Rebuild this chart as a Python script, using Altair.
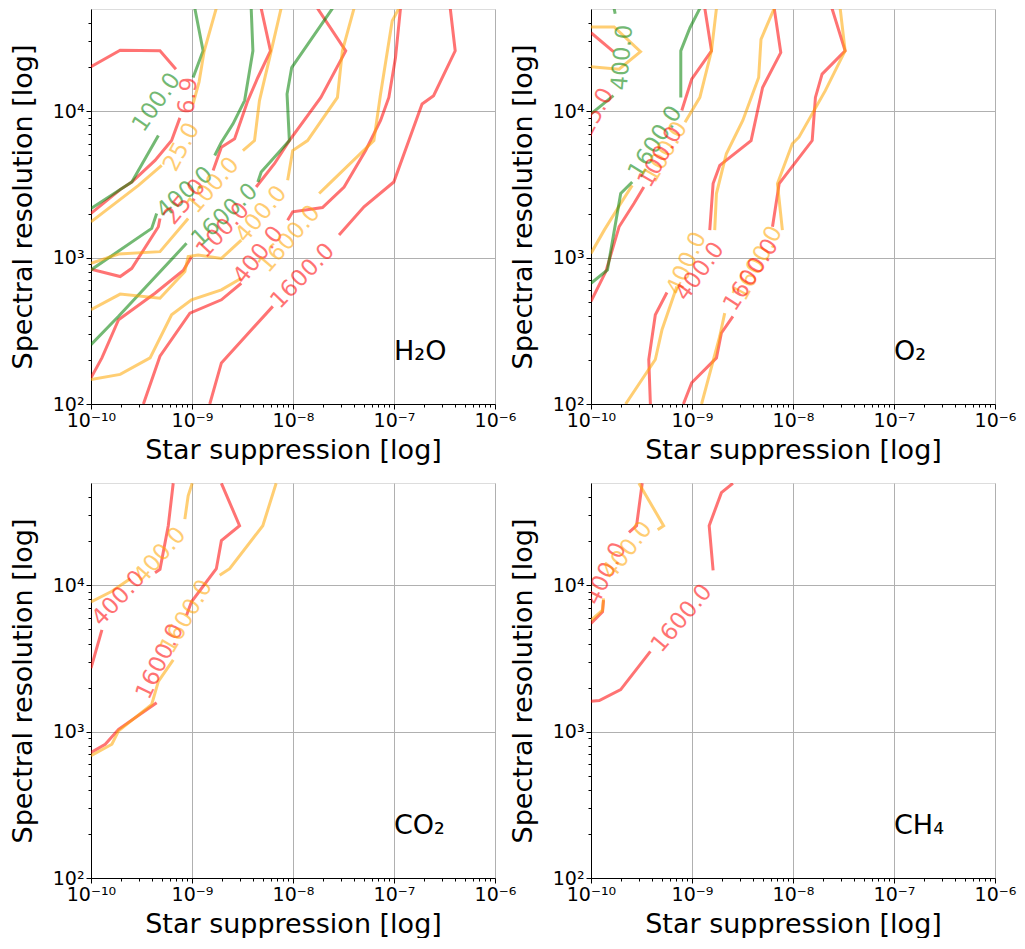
import altair as alt
import pandas as pd

# ---------------- axes ----------------
X_DOMAIN = [1e-10, 1e-6]
Y_DOMAIN = [1e2, 5e4]
X_TICKS = [1e-10, 1e-9, 1e-8, 1e-7, 1e-6]
X_TICK_LABELS = ["10⁻¹⁰", "10⁻⁹", "10⁻⁸", "10⁻⁷", "10⁻⁶"]
Y_TICKS = [1e2, 1e3, 1e4]
Y_TICK_LABELS = ["10²", "10³", "10⁴"]
X_TITLE = "Star suppression [log]"
Y_TITLE = "Spectral resolution [log]"

COLOR_NAMES = ["red", "orange", "green"]
COLOR_VALUES = ["#ff0000", "#ffa500", "#008000"]

SPECIES = ["H₂O", "O₂", "CO₂", "CH₄"]
SPECIES_POS = [-7.0, 2.30]  # log10 position of the species tag

# ---------------- contour segments: (log10 suppression, log10 resolution) ----------------
# H2O
H2O_RED_6_9_A = [(-10, 4.304), (-9.711, 4.417), (-9.317, 4.413), (-9.159, 4.288)]
H2O_RED_6_9_B = [(-9.120, 3.955), (-9.202, 3.800), (-9.366, 3.664), (-9.596, 3.517), (-9.711, 3.465), (-10, 3.302)]
H2O_RED_25_A = [(-10, 2.921), (-9.711, 2.871), (-9.596, 2.927), (-9.333, 3.211), (-9.317, 3.268)]
H2O_RED_25_B = [(-8.791, 3.596), (-8.709, 3.755), (-8.578, 3.812), (-8.447, 4.073), (-8.348, 4.231), (-8.223, 4.413), (-8.315, 4.703)]
H2O_RED_100_A = [(-10, 2.179), (-9.892, 2.315), (-9.727, 2.576), (-9.366, 2.757), (-9.087, 2.912), (-9.005, 3.007)]
H2O_RED_100_B = [(-8.365, 3.483), (-8.184, 3.642), (-8.036, 3.800), (-7.724, 4.095), (-7.478, 4.413), (-7.757, 4.703)]
H2O_RED_400_A = [(-9.481, 2.0), (-9.317, 2.327), (-9.021, 2.621), (-8.709, 2.712), (-8.512, 2.825)]
H2O_RED_400_B = [(-8.053, 3.256), (-8.003, 3.313), (-7.708, 3.342), (-7.494, 3.483), (-7.281, 3.732), (-7.133, 3.937), (-7.051, 4.095), (-6.985, 4.367), (-6.936, 4.703)]
H2O_RED_1600_A = [(-8.824, 2.0), (-8.709, 2.281), (-8.200, 2.667)]
H2O_RED_1600_B = [(-7.544, 3.154), (-7.297, 3.347), (-7.002, 3.517), (-6.722, 4.050), (-6.608, 4.107), (-6.394, 4.413), (-6.443, 4.703)]
H2O_GREEN_100_A = [(-8.972, 4.703), (-8.890, 4.413), (-8.989, 4.231)]
H2O_GREEN_100_B = [(-9.333, 3.834), (-9.596, 3.517), (-10, 3.336)]
H2O_GREEN_400_A = [(-8.414, 4.703), (-8.397, 4.413), (-8.479, 4.073), (-8.594, 3.914), (-8.709, 3.789), (-8.775, 3.698)]
H2O_GREEN_400_B = [(-9.350, 3.302), (-9.399, 3.200), (-10, 2.916)]
H2O_GREEN_1600_A = [(-10, 2.406), (-9.727, 2.599), (-9.054, 3.098)]
H2O_GREEN_1600_B = [(-8.348, 3.517), (-8.315, 3.585), (-8.036, 3.800), (-8.059, 4.118), (-8.013, 4.299), (-7.609, 4.703)]
H2O_ORANGE_25_A = [(-10, 3.245), (-9.530, 3.494), (-9.300, 3.630)]
H2O_ORANGE_25_B = [(-8.990, 4.050), (-8.930, 4.200), (-8.880, 4.410), (-8.760, 4.703)]
H2O_ORANGE_100_A = [(-10, 2.961), (-9.727, 3.025), (-9.317, 3.041), (-9.038, 3.268)]
H2O_ORANGE_100_B = [(-8.496, 3.732), (-8.381, 3.800), (-8.332, 4.073), (-8.223, 4.390), (-8.118, 4.703)]
H2O_ORANGE_400_A = [(-10, 2.644), (-9.711, 2.751), (-9.317, 2.723), (-9.071, 2.905), (-9.038, 3.007), (-8.939, 3.018), (-8.709, 2.995), (-8.512, 3.120)]
H2O_ORANGE_400_B = [(-8.053, 3.528), (-8.003, 3.732), (-7.856, 3.800), (-7.560, 4.095), (-7.511, 4.413), (-7.396, 4.703)]
H2O_ORANGE_1600_A = [(-10, 2.168), (-9.711, 2.202), (-9.415, 2.315), (-9.202, 2.610), (-9.005, 2.712), (-8.709, 2.780), (-8.512, 2.859)]
H2O_ORANGE_1600_B = [(-7.741, 3.438), (-7.658, 3.494), (-7.199, 3.800), (-7.133, 4.118), (-7.018, 4.617), (-6.952, 4.703)]

# O2
O2_RED_25 = [(-10, 4.537), (-9.778, 4.408)]
O2_RED_100_A = [(-8.873, 4.703), (-8.807, 4.413), (-9.003, 4.220), (-9.101, 4.005)]
O2_RED_100_B = [(-9.477, 3.483), (-9.575, 3.370), (-9.722, 3.211), (-9.853, 2.905), (-10, 2.701)]
O2_RED_400_A = [(-8.186, 4.703), (-8.121, 4.401), (-8.301, 4.163), (-8.415, 3.800), (-8.725, 3.630), (-8.791, 3.506), (-8.824, 3.188)]
O2_RED_400_B = [(-9.248, 2.762), (-9.363, 2.610), (-9.428, 2.304), (-9.412, 2.0)]
O2_RED_1600_A = [(-7.614, 4.703), (-7.484, 4.413), (-7.712, 4.254), (-7.778, 4.095), (-7.810, 3.800), (-8.137, 3.506), (-8.203, 3.211)]
O2_RED_1600_B = [(-8.595, 2.599), (-8.709, 2.485), (-8.758, 2.315), (-9.003, 2.145), (-9.085, 2.0)]
O2_ORANGE_25 = [(-10, 4.576), (-9.771, 4.576), (-9.510, 4.408), (-9.722, 4.288), (-10, 4.304)]
O2_ORANGE_100_A = [(-8.758, 4.703), (-8.807, 4.413), (-8.922, 4.095), (-9.069, 3.925)]
O2_ORANGE_100_B = [(-9.592, 3.494), (-9.706, 3.370), (-9.869, 3.188), (-10, 3.029)]
O2_ORANGE_400_A = [(-8.186, 4.703), (-8.317, 4.492), (-8.340, 4.231), (-8.497, 3.937), (-8.660, 3.710), (-8.758, 3.438), (-8.775, 3.188)]
O2_ORANGE_400_B = [(-9.150, 2.803), (-9.297, 2.508), (-9.363, 2.304), (-9.657, 2.0)]
O2_ORANGE_1600_A = [(-7.533, 4.703), (-7.484, 4.413), (-7.680, 4.141), (-7.941, 3.823), (-8.007, 3.778), (-8.154, 3.506), (-8.105, 3.188)]
O2_ORANGE_1600_B = [(-8.676, 2.621), (-8.725, 2.463), (-8.905, 2.0)]
O2_GREEN_400_A = [(-9.771, 4.703), (-9.761, 4.667)]
O2_GREEN_400_B = [(-9.778, 4.107), (-10, 3.982)]
O2_GREEN_1600_A = [(-8.922, 4.703), (-9.020, 4.571), (-9.111, 4.413), (-9.111, 4.095)]
O2_GREEN_1600_B = [(-9.592, 3.517), (-9.706, 3.438), (-9.837, 2.916), (-10, 2.825)]

# CO2
CO2_RED_400_A = [(-10, 3.434), (-9.892, 3.695)]
CO2_RED_400_B = [(-9.366, 4.086), (-9.317, 4.109), (-9.235, 4.407), (-9.186, 4.697)]
CO2_RED_1600_A = [(-10, 2.857), (-9.859, 2.914), (-9.727, 3.016), (-9.350, 3.197)]
CO2_RED_1600_B = [(-9.054, 3.796), (-9.005, 3.887), (-8.759, 4.113), (-8.709, 4.305), (-8.529, 4.407), (-8.709, 4.697)]
CO2_ORANGE_400_A = [(-10, 3.887), (-9.793, 3.959), (-9.612, 4.045)]
CO2_ORANGE_400_B = [(-9.071, 4.452), (-9.038, 4.611), (-8.998, 4.697)]
CO2_ORANGE_1600_A = [(-10, 2.835), (-9.793, 2.914), (-9.727, 3.005), (-9.399, 3.186), (-9.333, 3.344), (-9.186, 3.491)]
CO2_ORANGE_1600_B = [(-8.726, 4.068), (-8.627, 4.113), (-8.299, 4.407), (-8.167, 4.697)]

# CH4
CH4_RED_400_A = [(-10, 3.740), (-9.886, 3.819), (-9.876, 3.898)]
CH4_RED_400_B = [(-9.624, 4.362), (-9.549, 4.407), (-9.493, 4.697)]
CH4_ORANGE_400_A = [(-10, 3.762), (-9.886, 3.830), (-9.876, 3.910)]
CH4_ORANGE_400_B = [(-9.526, 4.697), (-9.281, 4.407), (-9.340, 4.380)]
CH4_RED_1600_A = [(-10, 3.208), (-9.918, 3.213), (-9.706, 3.287), (-9.412, 3.548)]
CH4_RED_1600_B = [(-8.791, 4.102), (-8.830, 4.407), (-8.709, 4.633), (-8.595, 4.697)]

# ---------------- contour labels: (text, colour, log10 x, log10 y, angle) ----------------
H2O_LABELS = [
    ("100.0", "green", -9.350, 4.061, 305), ("25.0", "orange", -9.103, 3.755, 298),
    ("6.9", "red", -9.038, 4.107, 275), ("400.0", "green", -9.071, 3.444, 319),
    ("25.0", "red", -9.071, 3.381, 310), ("100.0", "orange", -8.791, 3.494, 311),
    ("1600.0", "green", -8.677, 3.290, 317), ("100.0", "red", -8.693, 3.188, 313),
    ("400.0", "orange", -8.315, 3.297, 310), ("400.0", "red", -8.342, 3.018, 308),
    ("1600.0", "orange", -8.036, 3.127, 311), ("1600.0", "red", -7.905, 2.875, 314),
]
O2_LABELS = [
    ("25.0", "red", -9.951, 3.993, 298), ("400.0", "green", -9.690, 4.367, 275),
    ("1600.0", "green", -9.363, 3.789, 302), ("100.0", "orange", -9.265, 3.721, 300),
    ("100.0", "red", -9.314, 3.687, 300), ("400.0", "orange", -9.052, 2.961, 294),
    ("400.0", "red", -8.922, 2.905, 306), ("1600.0", "orange", -8.350, 2.961, 298),
    ("1600.0", "red", -8.415, 2.882, 303),
]
CO2_LABELS = [
    ("400.0", "red", -9.727, 3.910, 313), ("400.0", "orange", -9.317, 4.204, 311),
    ("1600.0", "red", -9.317, 3.480, 296), ("1600.0", "orange", -9.054, 3.785, 300),
]
CH4_LABELS = [
    ("400.0", "red", -9.853, 4.079, 296), ("400.0", "orange", -9.641, 4.238, 308),
    ("1600.0", "red", -9.101, 3.774, 310),
]

PANEL_SEGMENTS = [
    [("red", H2O_RED_6_9_A), ("red", H2O_RED_6_9_B), ("red", H2O_RED_25_A), ("red", H2O_RED_25_B),
     ("red", H2O_RED_100_A), ("red", H2O_RED_100_B), ("red", H2O_RED_400_A), ("red", H2O_RED_400_B),
     ("red", H2O_RED_1600_A), ("red", H2O_RED_1600_B),
     ("green", H2O_GREEN_100_A), ("green", H2O_GREEN_100_B), ("green", H2O_GREEN_400_A), ("green", H2O_GREEN_400_B),
     ("green", H2O_GREEN_1600_A), ("green", H2O_GREEN_1600_B),
     ("orange", H2O_ORANGE_25_A), ("orange", H2O_ORANGE_25_B), ("orange", H2O_ORANGE_100_A), ("orange", H2O_ORANGE_100_B),
     ("orange", H2O_ORANGE_400_A), ("orange", H2O_ORANGE_400_B), ("orange", H2O_ORANGE_1600_A), ("orange", H2O_ORANGE_1600_B)],
    [("red", O2_RED_25), ("red", O2_RED_100_A), ("red", O2_RED_100_B), ("red", O2_RED_400_A), ("red", O2_RED_400_B),
     ("red", O2_RED_1600_A), ("red", O2_RED_1600_B),
     ("orange", O2_ORANGE_25), ("orange", O2_ORANGE_100_A), ("orange", O2_ORANGE_100_B), ("orange", O2_ORANGE_400_A),
     ("orange", O2_ORANGE_400_B), ("orange", O2_ORANGE_1600_A), ("orange", O2_ORANGE_1600_B),
     ("green", O2_GREEN_400_A), ("green", O2_GREEN_400_B), ("green", O2_GREEN_1600_A), ("green", O2_GREEN_1600_B)],
    [("red", CO2_RED_400_A), ("red", CO2_RED_400_B), ("red", CO2_RED_1600_A), ("red", CO2_RED_1600_B),
     ("orange", CO2_ORANGE_400_A), ("orange", CO2_ORANGE_400_B), ("orange", CO2_ORANGE_1600_A), ("orange", CO2_ORANGE_1600_B)],
    [("red", CH4_RED_400_A), ("red", CH4_RED_400_B), ("orange", CH4_ORANGE_400_A), ("orange", CH4_ORANGE_400_B),
     ("red", CH4_RED_1600_A), ("red", CH4_RED_1600_B)],
]
PANEL_LABELS = [H2O_LABELS, O2_LABELS, CO2_LABELS, CH4_LABELS]

# ---------------- helpers ----------------
MAJOR_TEST = "abs(log(datum.value)/LN10 - round(log(datum.value)/LN10)) < 1e-6"


def label_expr(ticks, labels):
    expr = "''"
    for t, l in reversed(list(zip(ticks, labels))):
        expr = f"abs(datum.value/{t:g} - 1) < 1e-6 ? '{l}' : {expr}"
    return expr


X_AXIS_VALUES = [m * 10.0 ** e for e in range(-10, -6) for m in range(1, 10)] + [1e-6]
Y_AXIS_VALUES = [m * 10.0 ** e for e in (2, 3) for m in range(1, 10)] + [1e4, 2e4, 3e4, 4e4]

common_axis = dict(
    grid=True,
    gridColor="#b0b0b0",
    gridWidth=1,
    gridOpacity={"condition": {"test": MAJOR_TEST, "value": 1}, "value": 0},
    tickSize={"condition": {"test": MAJOR_TEST, "value": 5}, "value": 3},
    tickColor="black",
    domainColor="black",
    labelColor="black",
    titleColor="black",
    labelFont="DejaVu Sans",
    titleFont="DejaVu Sans",
    labelFontSize=19,
    titleFontSize=27,
    titleFontWeight="normal",
    labelPadding=2,
    labelFlush=False,
    labelOverlap=False,
)

X_AXIS = alt.Axis(values=X_AXIS_VALUES, labelExpr=label_expr(X_TICKS, X_TICK_LABELS), title=X_TITLE,
                  titlePadding=7, **common_axis)
Y_AXIS = alt.Axis(values=Y_AXIS_VALUES, labelExpr=label_expr(Y_TICKS, Y_TICK_LABELS), title=Y_TITLE,
                  titlePadding=15, **common_axis)

XS = alt.Scale(type="log", domain=X_DOMAIN, nice=False)
YS = alt.Scale(type="log", domain=Y_DOMAIN, nice=False)
CS = alt.Scale(domain=COLOR_NAMES, range=COLOR_VALUES)

PANEL_W = 404
PANEL_H = 395


def panel(name, segs, labels):
    rows = []
    for sid, (color, pts) in enumerate(segs):
        for i, (lx, ly) in enumerate(pts):
            rows.append(dict(seg=sid, color=color, i=i, x=10 ** lx, y=10 ** ly))
    line_df = pd.DataFrame(rows)
    lab_df = pd.DataFrame([dict(text=t, color=c, x=10 ** lx, y=10 ** ly, angle=a)
                           for t, c, lx, ly, a in labels])
    tag_df = pd.DataFrame([dict(text=name, x=10 ** SPECIES_POS[0], y=10 ** SPECIES_POS[1])])

    xenc = alt.X("x:Q", scale=XS, axis=X_AXIS)
    yenc = alt.Y("y:Q", scale=YS, axis=Y_AXIS)

    lines = alt.Chart(line_df).mark_line(strokeWidth=3, opacity=0.55, clip=True).encode(
        x=xenc, y=yenc,
        color=alt.Color("color:N", scale=CS, legend=None),
        detail="seg:N",
        order="i:Q",
    )
    texts = alt.Chart(lab_df).mark_text(fontSize=23, opacity=0.55, clip=True, font="DejaVu Sans",
                                        align="center", baseline="middle").encode(
        x=xenc, y=yenc,
        text="text:N",
        color=alt.Color("color:N", scale=CS, legend=None),
        angle=alt.Angle("angle:Q", scale=None),
    )
    tag = alt.Chart(tag_df).mark_text(fontSize=27, color="black", font="DejaVu Sans",
                                      align="left", baseline="alphabetic").encode(
        x=xenc, y=yenc, text="text:N"
    )
    return alt.layer(lines, texts, tag).properties(width=PANEL_W, height=PANEL_H)


panels = [panel(SPECIES[k], PANEL_SEGMENTS[k], PANEL_LABELS[k]) for k in range(4)]

chart = alt.concat(
    *panels,
    columns=2,
    spacing={"row": 79, "column": 96},
    bounds="flush",
).properties(padding=0).configure_view(stroke="black", strokeWidth=1).configure(background="white")

chart.save("out.html", embed_options={"renderer": "svg", "actions": False})
